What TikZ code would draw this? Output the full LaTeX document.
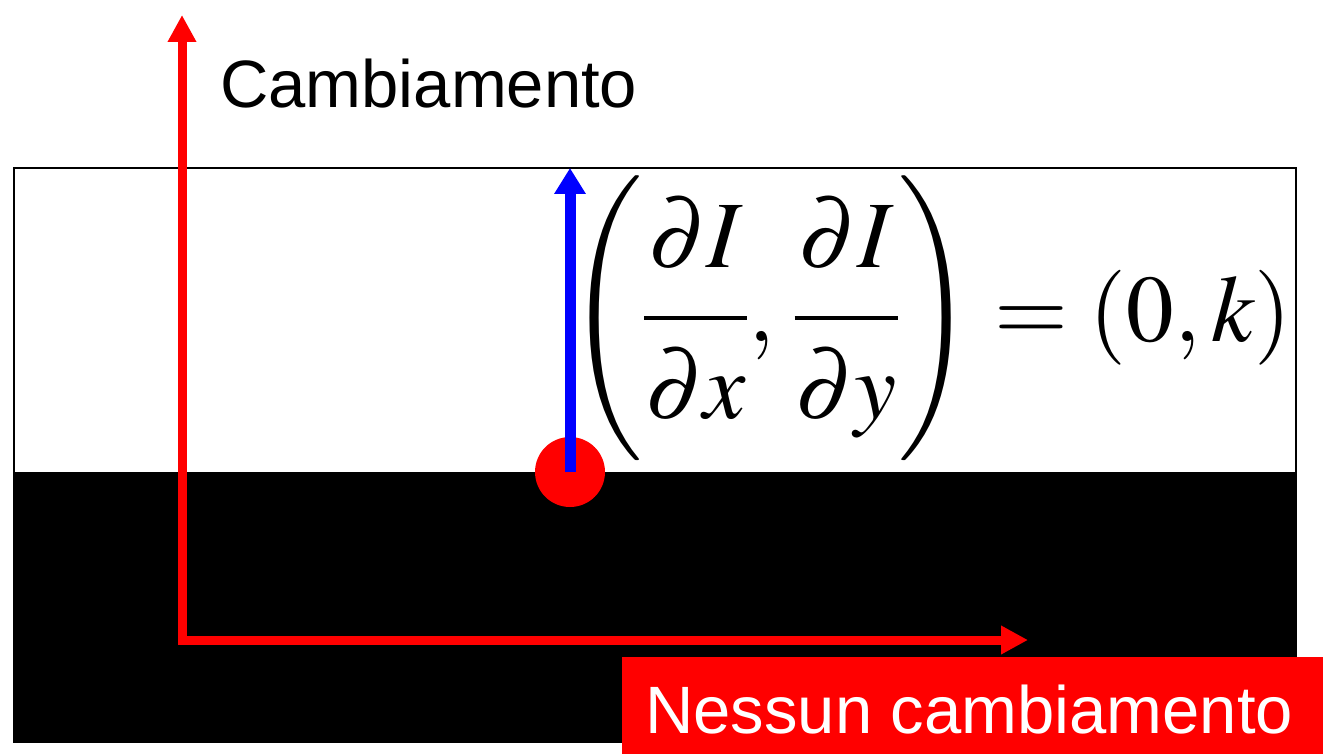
\documentclass[tikz,border=0pt]{standalone}
\usepackage{mathptmx}
\usepackage{amsmath}
\usepackage{fontspec}
\newfontfamily\arialfont{Liberation Sans}
\usetikzlibrary{arrows.meta}
\definecolor{pred}{RGB}{255,0,0}
\definecolor{pblue}{RGB}{0,0,255}
\newcommand{\pnum}[1]{\hspace{1pt}\raisebox{10pt}{$#1$}\hspace{1pt}}
\newcommand{\pden}[1]{\hspace{1pt}\raisebox{-12pt}{$#1$}\hspace{1pt}}
\tikzset{
  axisline/.style={draw=pred, line width=9pt,
    arrows={Triangle[length=27pt,width=27pt]-Triangle[length=27pt,width=27pt]}},
  gradarrow/.style={draw=pblue, line width=11pt, -{Triangle[length=26pt,width=30pt]}},
  labeltext/.style={font=\arialfont\fontsize{67}{70}\selectfont, inner sep=0pt},
}
\begin{document}
\begin{tikzpicture}[x=1pt,y=-1pt]
\useasboundingbox (0,0) rectangle (1323,754);
\fill[white] (0,0) rectangle (1323,754);
% image panel
\draw[line width=2pt, fill=white] (14,168) rectangle (1296,742);
\fill[black] (14,472) rectangle (1296,742);
\draw[line width=2pt] (14,168) rectangle (1296,742);
% red label box
\node[fill=pred, minimum width=701pt, minimum height=97pt, inner sep=0pt, anchor=north west] (nbox) at (622,657) {};
\node[labeltext, text=white, anchor=base west] (ntext) at (645,733) {Nessun cambiamento};
% axes
\coordinate (ytop) at (182,15);
\coordinate (corner) at (182,640);
\coordinate (xend) at (1028,640);
\draw[axisline, line join=miter] (ytop) -- (corner) -- (xend);
\node[labeltext, anchor=base west] (ctext) at (220,108) {Cambiamento};
% point and gradient
\node[circle, fill=pred, minimum size=70pt, inner sep=0pt] (pt) at (570,472) {};
\coordinate (gtop) at (570,168);
\draw[gradarrow] (pt.center) -- (gtop);
% formula
\node[inner sep=0pt, anchor=east] (formula) at (1292,318) {\fontsize{95}{100}\selectfont
  $\left(\vrule height 150pt depth 102pt width 0pt
  \dfrac{\pnum{\partial I}}{\pden{\partial x}},\hspace{8pt}
  \dfrac{\pnum{\partial I}}{\pden{\partial y}}\right)=(0,k)$};
\end{tikzpicture}
\end{document}
